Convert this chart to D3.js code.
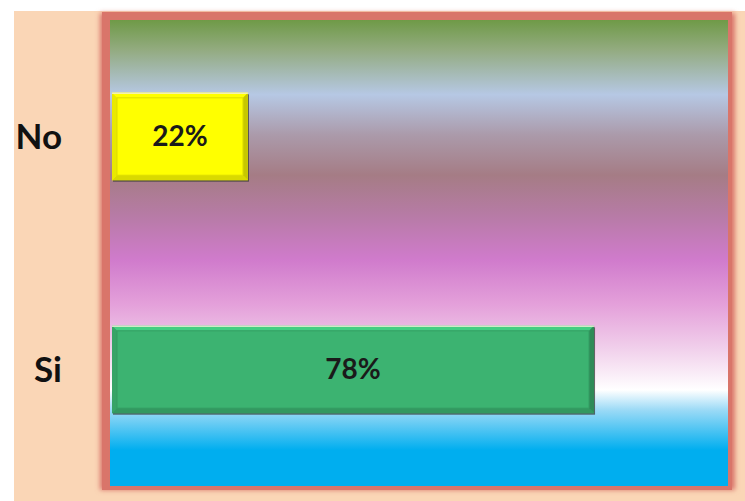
<!DOCTYPE html>
<html><head><meta charset="utf-8">
<script src="https://cdn.jsdelivr.net/npm/d3@7"></script>
<style>html,body{margin:0;padding:0;background:#fff;}svg{display:block;}</style>
</head><body>
<script>
const categories = ["No", "Si"];
const values = [0.22, 0.78];
const labels = ["22%", "78%"];
const barColors = ["#ffff00", "#3cb371"];

const W = 745, H = 501;
const inner = {x0: 110, x1: 728, y0: 20, y1: 486};

const svg = d3.select("body").append("svg").attr("width", W).attr("height", H);
const defs = svg.append("defs");

const bgStops = [
  [0, "#6f9a47"], [0.064, "#93ab80"], [0.16, "#b6c8e4"], [0.247, "#ab9aaa"],
  [0.333, "#a57c85"], [0.42, "#b77ba6"], [0.515, "#d07bcc"], [0.61, "#e4a0da"],
  [0.70, "#f0cdea"], [0.794, "#ffffff"], [0.837, "#9bdaf6"], [0.923, "#00aeef"], [1, "#00aeef"]
];
const lg = defs.append("linearGradient").attr("id", "bg").attr("x1", 0).attr("y1", 0).attr("x2", 0).attr("y2", 1);
bgStops.forEach(s => lg.append("stop").attr("offset", s[0]).attr("stop-color", s[1]));

const blur = defs.append("filter").attr("id", "glow").attr("x", "-10%").attr("y", "-10%").attr("width", "120%").attr("height", "120%");
blur.append("feGaussianBlur").attr("stdDeviation", 2.5);

// peach background
svg.append("rect").attr("x", 14).attr("y", 11).attr("width", W - 14).attr("height", H - 11).attr("fill", "#fad6b6");

// frame glow
svg.append("rect").attr("x", 100).attr("y", 13).attr("width", 635).attr("height", 477)
  .attr("fill", "#d9756a").attr("filter", "url(#glow)");
svg.append("rect").attr("x", 102).attr("y", 12).attr("width", 630).attr("height", 478)
  .attr("fill", "#d9756a");

// plot gradient
svg.append("rect").attr("x", inner.x0).attr("y", inner.y0)
  .attr("width", inner.x1 - inner.x0).attr("height", inner.y1 - inner.y0)
  .attr("fill", "url(#bg)");

const x = d3.scaleLinear().domain([0, 1]).range([112, 730]);
const y = d3.scaleBand().domain(categories).range([inner.y0, inner.y1]).paddingInner(0.625).paddingOuter(0.3125);

const data = categories.map((c, i) => ({c, v: values[i], label: labels[i], color: barColors[i]}));

const g = svg.append("g");
data.forEach(d => {
  const x0 = x(0), x1 = x(d.v), y0 = y(d.c), y1 = y(d.c) + y.bandwidth();
  const b = 5;
  const base = d3.color(d.color);
  const gg = g.append("g");
  // drop shadow
  gg.append("rect").attr("x", x0 + 1).attr("y", y0 + 1.5).attr("width", x1 - x0).attr("height", y1 - y0)
    .attr("fill", "#3a3a3a").attr("opacity", 0.75);
  gg.append("rect").attr("x", x0).attr("y", y0).attr("width", x1 - x0).attr("height", y1 - y0).attr("fill", d.color);
  const poly = (pts, fill) => gg.append("polygon").attr("points", pts.map(p => p.join(",")).join(" ")).attr("fill", fill);
  poly([[x0, y0], [x1, y0], [x1 - b, y0 + b], [x0 + b, y0 + b]], base.brighter(0.4).formatHex());
  poly([[x0, y0], [x0 + b, y0 + b], [x0 + b, y1 - b], [x0, y1]], base.darker(0.25).formatHex());
  poly([[x0, y1], [x0 + b, y1 - b], [x1 - b, y1 - b], [x1, y1]], base.darker(0.45).formatHex());
  poly([[x1, y0], [x1, y1], [x1 - b, y1 - b], [x1 - b, y0 + b]], base.darker(0.7).formatHex());
  gg.append("rect").attr("x", x0 + b).attr("y", y0 + b).attr("width", x1 - x0 - 2 * b).attr("height", y1 - y0 - 2 * b)
    .attr("fill", "none").attr("stroke", base.darker(0.4).formatHex()).attr("stroke-width", 1);
  gg.append("line").attr("x1", x0).attr("x2", x1).attr("y1", y0 + 0.5).attr("y2", y0 + 0.5)
    .attr("stroke", "#f4f0d8").attr("stroke-width", 1.5).attr("opacity", 0.8);
  gg.append("text").attr("x", (x0 + x1) / 2).attr("y", (y0 + y1) / 2).attr("dy", "0.35em")
    .attr("text-anchor", "middle").attr("font-family", "Lato, 'Liberation Sans', sans-serif")
    .attr("font-weight", "bold").attr("font-size", 28).attr("fill", "#1a1a1a").text(d.label);
});

// category labels
svg.append("g").selectAll("text").data(categories).join("text")
  .attr("x", 62).attr("y", d => y(d) + y.bandwidth() / 2).attr("dy", "0.36em")
  .attr("text-anchor", "end").attr("font-family", "Lato, 'Liberation Sans', sans-serif")
  .attr("font-weight", "bold").attr("font-size", 35).attr("fill", "#111").text(d => d);
</script>
</body></html>
